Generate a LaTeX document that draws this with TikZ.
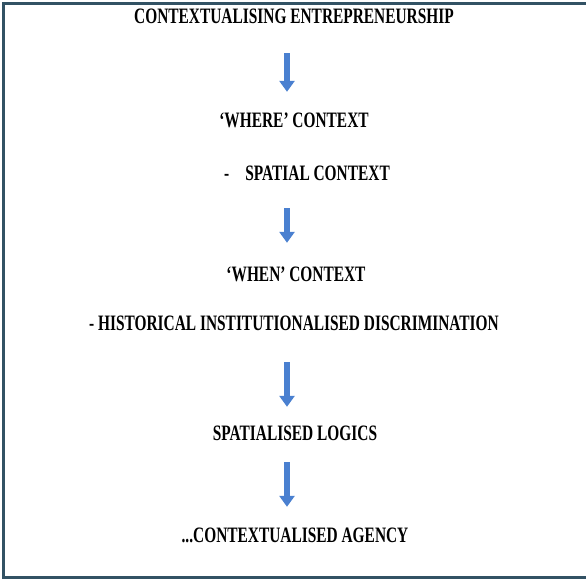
\documentclass[tikz,border=0pt]{standalone}
\usepackage{fontspec}
\setmainfont{Liberation Serif}[FakeStretch=0.70]
\usetikzlibrary{positioning, arrows.meta}

\definecolor{framecol}{RGB}{50,82,100}
\definecolor{flowblue}{RGB}{74,128,208}

\begin{document}
\begin{tikzpicture}[
    x=1pt, y=-1pt,
    node distance=50pt, on grid,
    step text/.style={font=\bfseries\fontsize{22}{24}\selectfont, inner sep=0pt, text height=14.6pt, text depth=0pt},
    flow/.style={-{Triangle[length=11pt, width=15pt]}, line width=6.5pt, draw=flowblue},
    frame/.style={line width=3pt, draw=framecol},
]
\useasboundingbox (0,0) rectangle (586,578);

%% FRAME
    \draw[frame] (586,4) -- (3,4) -- (3,577) -- (586,577);

%% NODES
    % what is put in context
    \node[step text] (entre) at (294,16) {CONTEXTUALISING ENTREPRENEURSHIP};

    % where
    \node[step text, below=104pt of entre] (where) {`WHERE' CONTEXT};
    \node[step text, below=53pt of where, xshift=13pt] (spatial) {-\hspace{16pt}SPATIAL CONTEXT};

    % when
    \node[step text, below=101pt of spatial, xshift=-11pt] (when) {`WHEN' CONTEXT};
    \node[step text, below=49pt of when, xshift=-2pt] (history) {- HISTORICAL INSTITUTIONALISED DISCRIMINATION};

    % logics and agency
    \node[step text, below=110pt of history, xshift=1pt] (logics) {SPATIALISED LOGICS};
    \node[step text, below=102pt of logics] (agency) {...CONTEXTUALISED AGENCY};

    % arrow axis
    \coordinate (axis) at (287,0);

%% CONNECTIONS
    \draw[flow, shorten <=29.7pt, shorten >=20.7pt] (entre.south -| axis) -- (where.north -| axis);
    \draw[flow, shorten <=27.7pt, shorten >=23.7pt] (spatial.south -| axis) -- (when.north -| axis);
    \draw[flow, shorten <=31.7pt, shorten >=18.7pt] (history.south -| axis) -- (logics.north -| axis);
    \draw[flow, shorten <=21.7pt, shorten >=20.7pt] (logics.south -| axis) -- (agency.north -| axis);

\end{tikzpicture}
\end{document}
